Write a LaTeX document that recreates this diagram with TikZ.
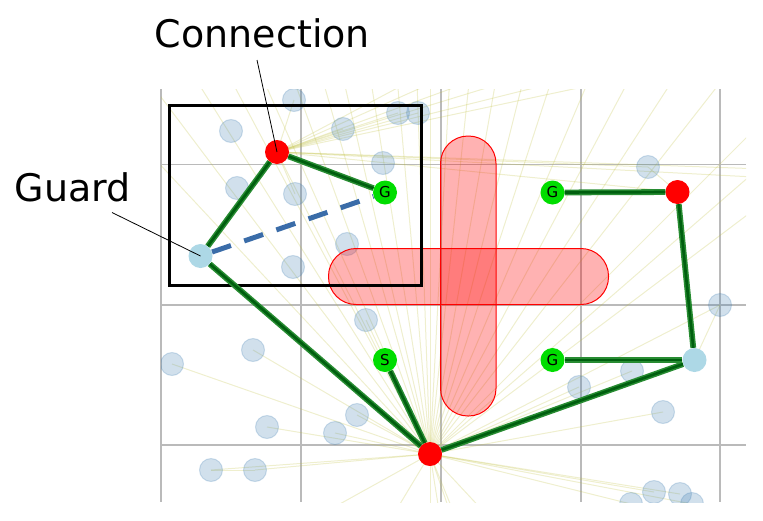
\documentclass[tikz,border=0pt]{standalone}
\usepackage{fontspec}
\setmainfont{DejaVu Sans}
\usetikzlibrary{positioning}
\definecolor{goalgreen}{RGB}{0,221,0}
\definecolor{steelblue}{RGB}{70,130,180}
\definecolor{guardblue}{RGB}{173,216,230}
\definecolor{dashblue}{RGB}{58,108,168}
\definecolor{edgegreen}{RGB}{0,95,15}
\definecolor{halogreen}{RGB}{40,140,50}
\definecolor{raycolor}{RGB}{190,190,60}
\pgfdeclarelayer{bg}
\pgfdeclarelayer{mid}
\pgfdeclarelayer{edges}
\pgfsetlayers{bg,mid,edges,main}

\begin{document}
\begin{tikzpicture}[x=1pt, y=-1pt,
  gridline/.style={draw=black!27, line width=1.1pt},
  ray/.style={draw=raycolor, draw opacity=0.25, line width=1pt},
  sample/.style={circle, minimum size=23pt, inner sep=0pt, fill=steelblue,
                 fill opacity=0.25, draw=steelblue, draw opacity=0.25, line width=1pt},
  connection/.style={circle, minimum size=24pt, inner sep=0pt, fill=red},
  guardnode/.style={circle, minimum size=24pt, inner sep=0pt, fill=guardblue},
  goal/.style={circle, minimum size=24pt, inner sep=0pt, fill=goalgreen,
               font=\fontsize{15}{15}\selectfont},
  obstacle/.style={fill=red, fill opacity=0.3, draw=red, line width=1pt,
                   rounded corners=27.5pt},
  roadedge/.style={draw=edgegreen, line width=2.7pt,
                   preaction={draw=halogreen, line width=5.8pt}},
  guardlink/.style={draw=dashblue, line width=5pt, dash pattern=on 20pt off 14pt},
  annot/.style={font=\fontsize{38}{40}\selectfont, anchor=base, inner sep=0pt},
  pointer/.style={draw=black, line width=0.8pt}
]
\useasboundingbox (0,0) rectangle (763,520);

% Roadmap nodes
\node[connection] (conn) at (277,152) {};
\node[goal] (goalA) at (385,192.5) {G};
\node[guardnode] (guard) at (200.5,256) {};
\node[goal] (goalB) at (552.5,192.5) {G};
\node[connection] (connR) at (677.5,192) {};
\node[guardnode] (guardR) at (694.5,360) {};
\node[goal] (goalC) at (552.5,360) {G};
\node[goal] (start) at (385,360) {S};
\node[connection] (connB) at (430,454) {};

% Samples, obstacle and box
\begin{pgfonlayer}{mid}
\begin{scope}
\clip (161,89) rectangle (746,502);
\foreach \p [count=\i] in {(231,131),(294,100),(343,129),(398,113),(418,113),
    (383,163),(237,188),(295,194),(347,244),(293,267),(648,167),(720,305),
    (366,320),(253,350),(172,364),(357,415),(335,433),(267,427),(211,470),
    (255,470),(632,371),(579,387),(663,412),(654,492),(680,494),(692,504),(631,504)}
  \node[sample] (s\i) at \p {};
\end{scope}
\draw[obstacle] (440.5,136) rectangle (496,416);
\draw[obstacle] (328.5,248.5) rectangle (608.5,304.5);
\draw[black, line width=3pt] (169.5,105) rectangle (421,285.5);
\end{pgfonlayer}

% Grid and rays
\begin{pgfonlayer}{bg}
\foreach \x in {161,301,441,581,720}
  \draw[gridline] (\x,89) -- (\x,502);
\foreach \y in {164.5,305,445}
  \draw[gridline] (161,\y) -- (746,\y);
\begin{scope}
\clip (161,89) rectangle (746,502);
\foreach \i in {12,...,27}
  \draw[ray] (connB.center) -- (s\i.center);
\draw[ray] (s19.center) -- (s20.center);
\foreach \a in {37,41,45,52,57,62,67,72,76,80,84,87,90,92,95,99,103,106,
    110,114,118,122,127,133,-47,-68,-71,-81,-90,-121,-151}
  \draw[ray] (connB.center) -- ++(-\a:700);
\foreach \i in {2,3,4,5,8}
  \draw[ray] (conn.center) -- (s\i.center);
\foreach \a in {12,14,17,20,24,28,-2,-3}
  \draw[ray] (conn.center) -- ++(-\a:600);
\draw[ray] (conn.center) -- (connR.center);
\draw[ray] (conn.center) -- (connB.center);
\draw[ray] (conn.center) -- (s11.center);
\draw[ray] (s11.center) -- (connR.center);
\draw[ray] (guardR.center) -- (s12.center);
\end{scope}
\end{pgfonlayer}

% Paths
\begin{pgfonlayer}{edges}
\draw[roadedge] (conn) -- (goalA);
\draw[roadedge] (conn) -- (guard);
\draw[roadedge] (guard) -- (connB);
\draw[roadedge] (start) -- (connB);
\draw[roadedge] (connB) -- (guardR);
\draw[roadedge] (guardR) -- (goalC);
\draw[roadedge] (guardR) -- (connR);
\draw[roadedge] (connR) -- (goalB);
\draw[guardlink] (guard) -- (goalA);
\end{pgfonlayer}

% Labels
\node[annot] (connLabel) at (262.5,47) {Connection};
\node[annot] (guardLabel) at (72.5,201.5) {Guard};
\coordinate (connTip) at (257,60);
\coordinate (guardTip) at (112,212.5);
\draw[pointer] (connTip) -- (conn.center);
\draw[pointer] (guardTip) -- (guard.center);
\end{tikzpicture}
\end{document}
